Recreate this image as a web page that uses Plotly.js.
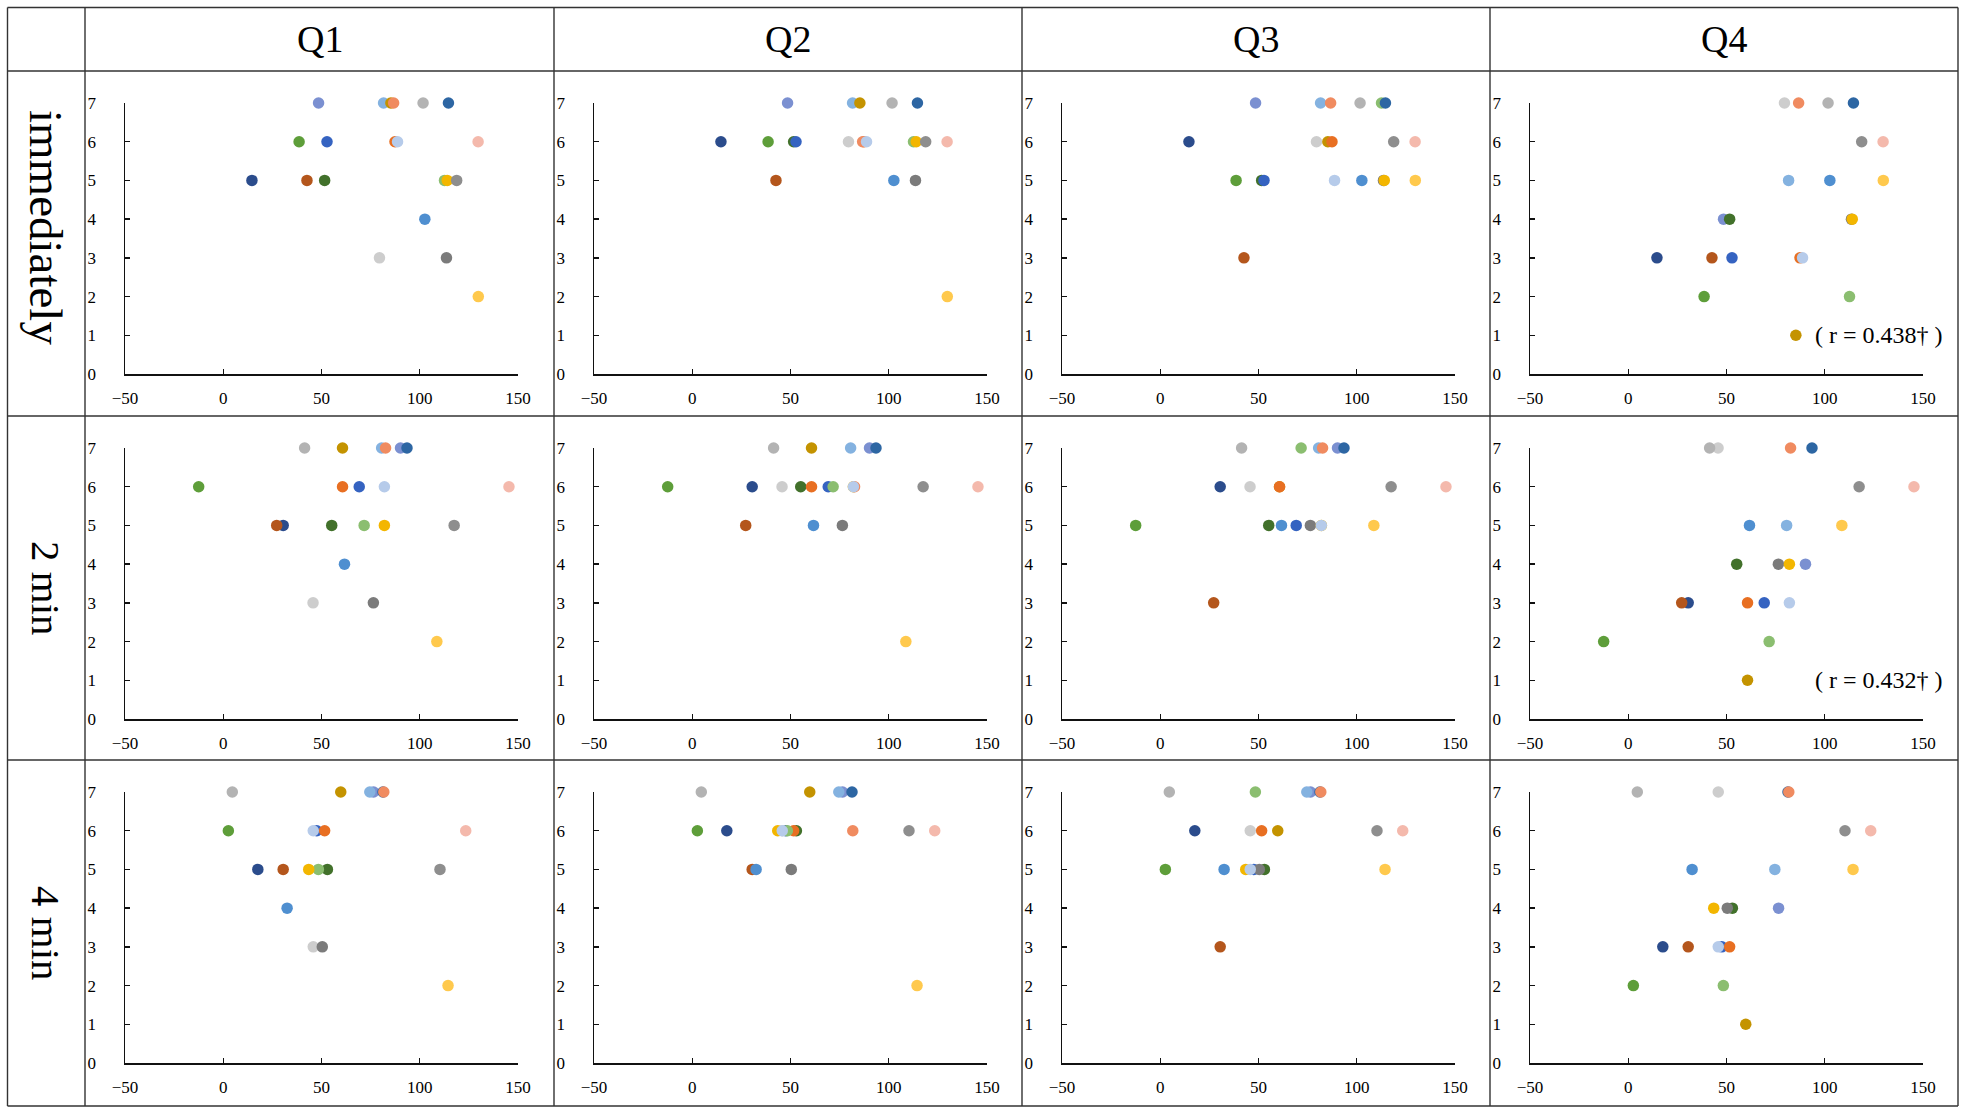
<!DOCTYPE html>
<html>
<head>
<meta charset="utf-8">
<script src="https://cdn.plot.ly/plotly-3.0.1.min.js"></script>
<style>
  html, body { margin: 0; padding: 0; background: #fff; }
  #chart { width: 1966px; height: 1112px; }
</style>
</head>
<body>
<div id="chart"></div>
<script>
// participants in drawing order (later ones sit on top)
var participants = ["A", "B", "C", "D", "E", "F", "G", "H", "J", "K", "M", "N", "O", "P", "Q", "R", "S", "T", "U", "I", "L"]
var questions = ["Q1", "Q2", "Q3", "Q4"]
var timePoints = ["immediately", "2 min", "4 min"]

// x value of each participant at each time point
var xImmediately = [14.6, 38.6, 42.6, 48.5, 51.6, 52.8, 79.5, 81.6, 85.3, 87.4, 101.7, 102.6, 112.6, 113.6, 114.6, 114, 118.8, 129.7, 129.8, 86.7, 88.7]
var x2min = [30.5, -12.5, 27.2, 90.2, 55.2, 69.2, 45.7, 80.6, 60.7, 60.7, 41.4, 61.7, 71.7, 76.4, 93.5, 82, 117.5, 145.4, 108.7, 82.6, 82]
var x4min = [17.6, 2.6, 30.5, 76.5, 53, 47.6, 45.8, 74.6, 59.8, 51.6, 4.6, 32.5, 48.4, 50.4, 81.3, 43.5, 110.3, 123.4, 114.4, 81.7, 45.8]

// answer of each participant for each question
var scoreQ1 = [5, 6, 5, 7, 5, 6, 3, 7, 7, 6, 7, 4, 5, 3, 7, 5, 5, 6, 2, 7, 6]
var scoreQ2 = [6, 6, 5, 7, 6, 6, 6, 7, 7, 6, 7, 5, 6, 5, 7, 6, 6, 6, 2, 6, 6]
var scoreQ3 = [6, 5, 3, 7, 5, 5, 6, 7, 6, 6, 7, 5, 7, 5, 7, 5, 6, 6, 5, 7, 5]
var scoreQ4 = [3, 2, 3, 4, 4, 3, 7, 5, 1, 3, 7, 5, 2, 4, 7, 4, 6, 6, 5, 7, 3]

var xTicks = [-50, 0, 50, 100, 150]
var yTicks = [0, 1, 2, 3, 4, 5, 6, 7]
var rNotes = ["( r = 0.438\u2020 )", "( r = 0.432\u2020 )", ""]

var dotColors = ["#2B4C8C", "#5E9E3A", "#B4561C", "#7B90D1", "#42712B", "#3563C1", "#CDCDCD", "#84B2E0",
  "#C49300", "#E86F22", "#B3B3B3", "#4F8FD0", "#8BBE70", "#7B7B7B", "#2D66A3", "#F3B600",
  "#8E8E8E", "#F4B9AC", "#FFC94D", "#F08B60", "#B6CBEA"]

var xByTime = [xImmediately, x2min, x4min]
var scoreByQ = [scoreQ1, scoreQ2, scoreQ3, scoreQ4]

var W = 1966, H = 1112
var colEdges = [85, 554, 1022, 1490, 1958]
var rowEdges = [71, 416, 760, 1106]
var tableLeft = 7.5, tableTop = 7.5
var serif = "Liberation Serif, Times New Roman, serif"

function px(x) { return x / W }
function py(y) { return 1 - y / H }

var data = []
var layout = {
  width: W,
  height: H,
  margin: { t: 0, r: 0, l: 0, b: 0 },
  paper_bgcolor: "#fff",
  plot_bgcolor: "rgba(0,0,0,0)",
  showlegend: false,
  font: { family: serif, color: "#000" },
  shapes: [],
  annotations: [],
}

var n = 0
for (var r = 0; r < timePoints.length; r++) {
  for (var c = 0; c < questions.length; c++) {
    n++
    var sx = n === 1 ? "" : n
    data.push({
      type: "scatter",
      mode: "markers",
      x: xByTime[r],
      y: scoreByQ[c],
      text: participants,
      xaxis: "x" + sx,
      yaxis: "y" + sx,
      cliponaxis: false,
      hoverinfo: "x+y+text",
      marker: { size: 11.5, color: dotColors, line: { width: 0 } },
    })
    var axBase = {
      showline: true, linecolor: "#111", linewidth: 1.5,
      ticks: "inside", ticklen: 5, tickwidth: 1.3, tickcolor: "#111",
      showgrid: false, zeroline: false, fixedrange: true,
      tickfont: { family: serif, size: 17, color: "#000" },
    }
    layout["xaxis" + sx] = Object.assign({}, axBase, {
      domain: [px(colEdges[c] + 40), px(colEdges[c] + 433)],
      range: [-50, 150],
      tickvals: xTicks,
      anchor: "y" + sx,
      ticklabelstandoff: 8,
    })
    layout["yaxis" + sx] = Object.assign({}, axBase, {
      domain: [py(rowEdges[r] + 303), py(rowEdges[r] + 32)],
      range: [0, 7],
      tickvals: yTicks,
      anchor: "x" + sx,
      ticklabelstandoff: 24,
    })
    if (c === 3 && rNotes[r]) {
      layout.annotations.push({
        xref: "x" + sx, yref: "y" + sx, x: 94, y: 1,
        xanchor: "left", yanchor: "middle", showarrow: false,
        text: rNotes[r], font: { family: serif, size: 24, color: "#000" },
      })
    }
  }
}

// table grid
var vLines = [tableLeft].concat(colEdges)
vLines.forEach(function (x) {
  layout.shapes.push({ type: "line", xref: "paper", yref: "paper",
    x0: px(x), x1: px(x), y0: py(tableTop), y1: py(rowEdges[3]),
    line: { color: "#333", width: 1.4 } })
})
var hLines = [tableTop].concat(rowEdges)
hLines.forEach(function (y) {
  layout.shapes.push({ type: "line", xref: "paper", yref: "paper",
    x0: px(tableLeft), x1: px(colEdges[4]), y0: py(y), y1: py(y),
    line: { color: "#333", width: 1.4 } })
})

// column headers
questions.forEach(function (q, c) {
  layout.annotations.push({
    xref: "paper", yref: "paper",
    x: px((colEdges[c] + colEdges[c + 1]) / 2), y: py(39),
    xanchor: "center", yanchor: "middle", showarrow: false,
    text: q, font: { family: serif, size: 38, color: "#000" },
  })
})

// row labels
timePoints.forEach(function (t, r) {
  layout.annotations.push({
    xref: "paper", yref: "paper",
    x: px(46), y: py(r === 0 ? 227 : (rowEdges[r] + rowEdges[r + 1]) / 2),
    xanchor: "center", yanchor: "middle", showarrow: false, textangle: 90,
    text: t, font: { family: serif, size: r === 0 ? 47 : 41, color: "#000" },
  })
})

Plotly.newPlot("chart", data, layout, { displayModeBar: false, staticPlot: true })
</script>
</body>
</html>
